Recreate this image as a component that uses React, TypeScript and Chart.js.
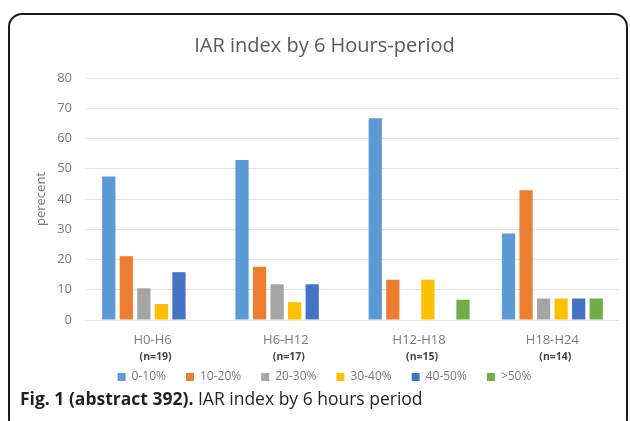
import React, { useEffect, useRef } from "react";
import { Chart, registerables } from "chart.js";

Chart.register(...registerables);

const categories = ["H0-H6", "H6-H12", "H12-H18", "H18-H24"];
const sampleSizes = ["(n=19)", "(n=17)", "(n=15)", "(n=14)"];
const seriesLabels = ["0-10%", "10-20%", "20-30%", "30-40%", "40-50%", ">50%"];
const s0to10 = [47.4, 52.9, 66.7, 28.6];
const s10to20 = [21.1, 17.6, 13.3, 42.9];
const s20to30 = [10.5, 11.8, 0, 7.1];
const s30to40 = [5.3, 5.9, 13.3, 7.1];
const s40to50 = [15.8, 11.8, 0, 7.1];
const sOver50 = [0, 0, 6.7, 7.1];
const seriesColors = ["#5B9BD5", "#ED7D31", "#A5A5A5", "#FFC000", "#4472C4", "#70AD47"];
const yMin = 0;
const yMax = 80;
const yStep = 10;

const FONT = "'Open Sans', 'DejaVu Sans', sans-serif";

const sampleSizePlugin = {
  id: "sampleSizes",
  afterDraw(chart: any) {
    const xs = chart.scales.x;
    const ctx = chart.ctx;
    ctx.save();
    ctx.font = `bold 10.5px ${FONT}`;
    ctx.fillStyle = "#444444";
    ctx.textAlign = "center";
    ctx.textBaseline = "middle";
    sampleSizes.forEach((s, i) => {
      ctx.fillText(s, xs.getPixelForTick(i) + 3, chart.chartArea.bottom + 37);
    });
    ctx.restore();
  },
};

export default function App() {
  const ref = useRef<HTMLCanvasElement | null>(null);

  useEffect(() => {
    if (!ref.current) return;
    const seriesData = [s0to10, s10to20, s20to30, s30to40, s40to50, sOver50];
    const chart = new Chart(ref.current, {
      type: "bar",
      data: {
        labels: categories,
        datasets: seriesLabels.map((label, i) => ({
          label,
          data: seriesData[i],
          backgroundColor: seriesColors[i],
          borderWidth: 0,
          categoryPercentage: 0.79,
          barPercentage: 0.755,
        })),
      },
      options: {
        responsive: false,
        animation: false,
        layout: { padding: { top: 0, left: 30, right: 11, bottom: 28 } },
        plugins: {
          title: {
            display: true,
            text: "IAR index by 6 Hours-period",
            color: "#595959",
            font: { size: 20, family: FONT, weight: "normal" as any },
            padding: { top: 34, bottom: 20 },
          },
          legend: {
            position: "bottom",
            labels: {
              boxWidth: 8,
              boxHeight: 8,
              padding: 20,
              color: "#7a7a7a",
              font: { size: 12, family: FONT },
            },
          },
          tooltip: { enabled: false },
        },
        scales: {
          x: {
            grid: { display: false, drawTicks: false },
            border: { display: false },
            ticks: {
              color: "#7a7a7a",
              padding: 12,
              font: { size: 13, family: FONT },
            },
            afterFit: (scale: any) => {
              scale.height = 31;
            },
          },
          y: {
            min: yMin,
            max: yMax,
            grid: { color: "#e2e2e2", drawTicks: false },
            border: { display: false },
            ticks: {
              stepSize: yStep,
              color: "#7a7a7a",
              padding: 14,
              font: { size: 13, family: FONT },
            },
            title: {
              display: true,
              text: "perecent",
              color: "#7a7a7a",
              font: { size: 13, family: FONT },
              padding: { top: 3, bottom: 4 },
            },
            afterFit: (scale: any) => {
              scale.width = 56;
            },
          },
        },
      },
      plugins: [sampleSizePlugin],
    });
    return () => chart.destroy();
  }, []);

  return (
    <div
      style={{
        position: "absolute",
        left: 0,
        top: 0,
        width: 630,
        height: 421,
        overflow: "hidden",
        background: "#ffffff",
      }}
    >
      <div
        style={{
          position: "absolute",
          left: 8,
          top: 13,
          width: 620,
          height: 420,
          border: "2px solid #1c1c1c",
          borderRadius: 14,
          boxSizing: "border-box",
        }}
      />
      <canvas
        ref={ref}
        width={630}
        height={421}
        style={{ position: "absolute", left: 0, top: 0, width: 630, height: 421 }}
      />
      <div
        style={{
          position: "absolute",
          left: 20,
          top: 386,
          fontFamily: FONT,
          fontSize: 17.5,
          lineHeight: "24px",
          color: "#231f20",
          whiteSpace: "nowrap",
        }}
      >
        <span style={{ fontWeight: 700 }}>Fig. 1 (abstract 392).</span> IAR index by 6 hours period
      </div>
    </div>
  );
}
